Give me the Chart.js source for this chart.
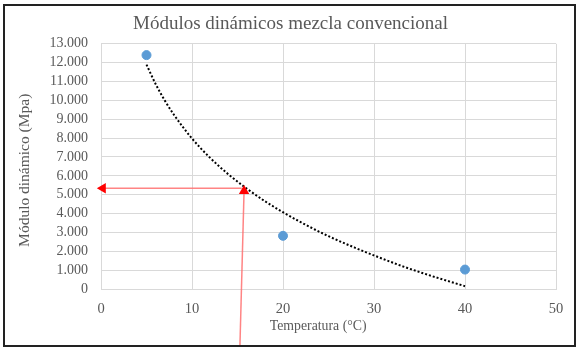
<!DOCTYPE html>
<html>
<head>
<meta charset="utf-8">
<script src="https://cdn.jsdelivr.net/npm/chart.js@4.4.0/dist/chart.umd.min.js"></script>
<style>
  html, body { margin: 0; padding: 0; background: #fff; }
  #wrap { position: relative; width: 581px; height: 353px; }
  #frame {
    position: absolute; left: 3px; top: 4px; width: 569px; height: 339px;
    border: 2px solid #222; pointer-events: none;
  }
</style>
</head>
<body>
<div id="wrap">
  <canvas id="chart" width="581" height="353"></canvas>
  <div id="frame"></div>
</div>
<script>
// measured points
const tempC = [5, 20, 40];
const modulo = [12400, 2820, 1030];

// dotted trend curve
const trendX = [5, 6, 7, 8, 10, 12, 14, 16, 18, 20, 22, 25, 28, 30, 33, 36, 40];
const trendY = [11900, 10870, 10000, 9250, 7980, 6950, 6080, 5330, 4660, 4070, 3530, 2800, 2170, 1780, 1230, 740, 150];

// red reading arrows
const arrowUpX = [15.27, 15.72];
const arrowUpY = [-2970, 5200];
const arrowLeftX = [15.46, 0.2];
const arrowLeftY = [5340, 5340];

const xTicks = [0, 10, 20, 30, 40, 50];
const yTickLabels = ['0', '1.000', '2.000', '3.000', '4.000', '5.000', '6.000',
  '7.000', '8.000', '9.000', '10.000', '11.000', '12.000', '13.000'];

const toPoints = (xs, ys) => xs.map((x, i) => ({ x: x, y: ys[i] }));

const grey = '#595959';
const serif = 'Liberation Serif, Times New Roman, serif';
const nb = n => '\u00a0'.repeat(n); // trailing spaces nudge the axis titles

const ctx = document.getElementById('chart').getContext('2d');
new Chart(ctx, {
  type: 'scatter',
  data: {
    datasets: [
      {
        data: toPoints(tempC, modulo),
        backgroundColor: '#5B9BD5',
        borderColor: '#5B9BD5',
        pointRadius: 4.5,
        order: 1
      },
      {
        data: toPoints(trendX, trendY),
        showLine: true,
        borderColor: '#000',
        borderWidth: 2,
        borderDash: [2, 2],
        pointRadius: 0,
        cubicInterpolationMode: 'monotone',
        order: 2
      },
      {
        data: toPoints(arrowUpX, arrowUpY),
        showLine: true,
        clip: false,
        borderColor: 'rgba(255,110,110,0.85)',
        borderWidth: 1.5,
        backgroundColor: '#ff0000',
        pointBorderColor: '#ff0000',
        pointStyle: 'triangle',
        pointRadius: [0, 6],
        pointBorderWidth: 0,
        order: 0
      },
      {
        data: toPoints(arrowLeftX, arrowLeftY),
        showLine: true,
        clip: false,
        borderColor: 'rgba(255,110,110,0.85)',
        borderWidth: 1.5,
        backgroundColor: '#ff0000',
        pointBorderColor: '#ff0000',
        pointStyle: 'triangle',
        pointRotation: -90,
        pointRadius: [0, 6],
        pointBorderWidth: 0,
        order: 0
      }
    ]
  },
  options: {
    responsive: false,
    animation: false,
    layout: { padding: { left: 0, right: 0, top: 10, bottom: 0 } },
    plugins: {
      legend: { display: false },
      tooltip: { enabled: false },
      title: {
        display: true,
        text: 'Módulos dinámicos mezcla convencional',
        color: grey,
        font: { family: serif, size: 19, weight: 'normal' },
        padding: { top: 3, bottom: 8 }
      }
    },
    scales: {
      x: {
        type: 'linear',
        min: 0,
        max: 50,
        afterBuildTicks: s => { s.ticks = xTicks.map(v => ({ value: v })); },
        afterFit: s => { s.height = 64; },
        grid: { color: '#d9d9d9', drawTicks: false },
        border: { color: '#d9d9d9' },
        ticks: {
          color: grey,
          padding: 11,
          font: { family: serif, size: 14.5 }
        },
        title: {
          display: true,
          text: 'Temperatura (°C)' + nb(6),
          color: grey,
          font: { family: serif, size: 13.8 },
          padding: { top: 0, bottom: 18 }
        }
      },
      y: {
        type: 'linear',
        min: 0,
        max: 13000,
        afterFit: s => { s.width = 101; },
        grid: { color: '#d9d9d9', drawTicks: false },
        border: { color: '#d9d9d9' },
        ticks: {
          stepSize: 1000,
          autoSkip: false,
          color: grey,
          padding: 13,
          font: { family: serif, size: 14 },
          callback: v => yTickLabels[Math.round(v / 1000)]
        },
        title: {
          display: true,
          text: 'Módulo dinámico (Mpa)' + nb(2),
          color: grey,
          font: { family: serif, size: 15.5 },
          padding: { top: 16, bottom: 0 }
        }
      },
      // empty right-hand axis so the title centres on the full frame
      yRight: {
        type: 'linear',
        position: 'right',
        display: true,
        afterFit: s => { s.width = 25; },
        grid: { display: false, drawOnChartArea: false },
        border: { display: false },
        ticks: { display: false }
      }
    }
  }
});
</script>
</body>
</html>
